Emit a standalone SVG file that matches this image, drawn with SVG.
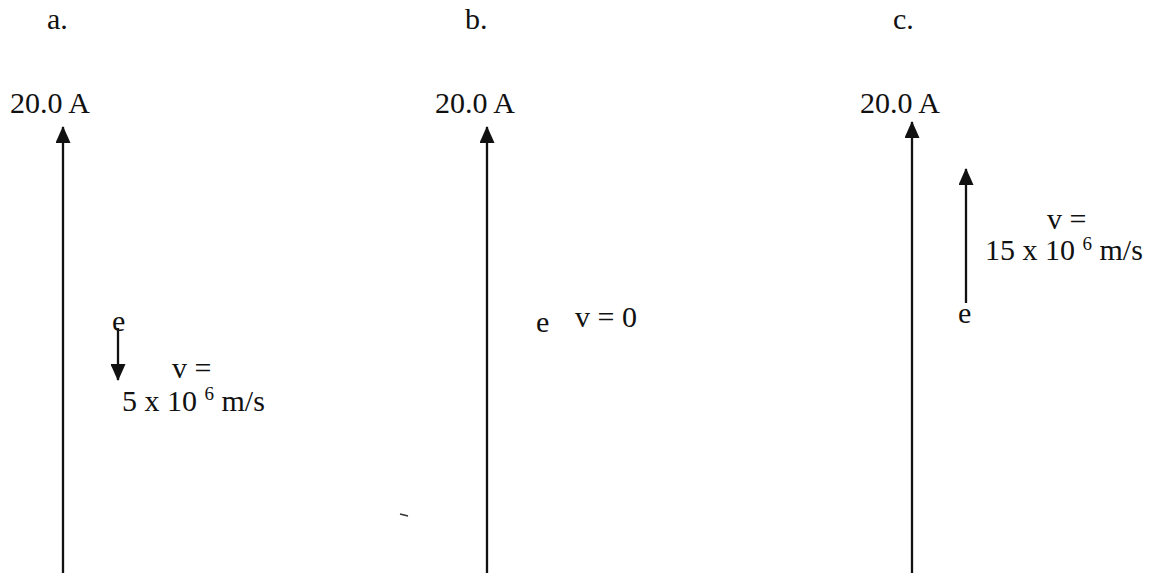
<svg xmlns="http://www.w3.org/2000/svg" width="1154" height="573" viewBox="0 0 1154 573">
<defs>
<style>
text{font-family:"Liberation Serif","Times New Roman",serif;font-size:30px;fill:#111}
.sup{font-size:19px}
.ln{stroke:#111;stroke-width:2.3;fill:none}
</style>
<marker id="ah" markerUnits="userSpaceOnUse" markerWidth="17" markerHeight="15" viewBox="0 0 17 15" refX="16" refY="7.5" orient="auto">
<path d="M17,7.5 L0,0 L0,15 Z" fill="#111"/>
</marker>
</defs>
<rect width="1154" height="573" fill="#fff"/>
<g id="connectors">
<line class="ln" x1="63" y1="573" x2="63" y2="127" marker-end="url(#ah)"/>
<line class="ln" x1="487" y1="573" x2="487" y2="127" marker-end="url(#ah)"/>
<line class="ln" x1="912" y1="573" x2="912" y2="122" marker-end="url(#ah)"/>
<line class="ln" x1="118" y1="328" x2="118" y2="380" marker-end="url(#ah)"/>
<line class="ln" x1="966" y1="303" x2="966" y2="169" marker-end="url(#ah)"/>
</g>
<g id="panel-a">
<text x="47" y="29">a.</text>
<text x="10" y="113">20.0 A</text>
<text x="112" y="331">e</text>
<text x="172" y="378">v =</text>
<text x="122" y="411">5 x 10 <tspan class="sup" dy="-11">6</tspan><tspan dy="11"> m/s</tspan></text>
</g>
<g id="panel-b">
<text x="465" y="29">b.</text>
<text x="435" y="113">20.0 A</text>
<text x="536" y="332">e</text>
<text x="575" y="327">v = 0</text>
</g>
<g id="panel-c">
<text x="893" y="29">c.</text>
<text x="860" y="113">20.0 A</text>
<text x="958" y="323">e</text>
<text x="1047" y="229">v =</text>
<text x="985" y="260">15 x 10 <tspan class="sup" dy="-10">6</tspan><tspan dy="10"> m/s</tspan></text>
</g>
<line x1="400" y1="514" x2="408" y2="516" stroke="#333" stroke-width="1.5"/>
</svg>
